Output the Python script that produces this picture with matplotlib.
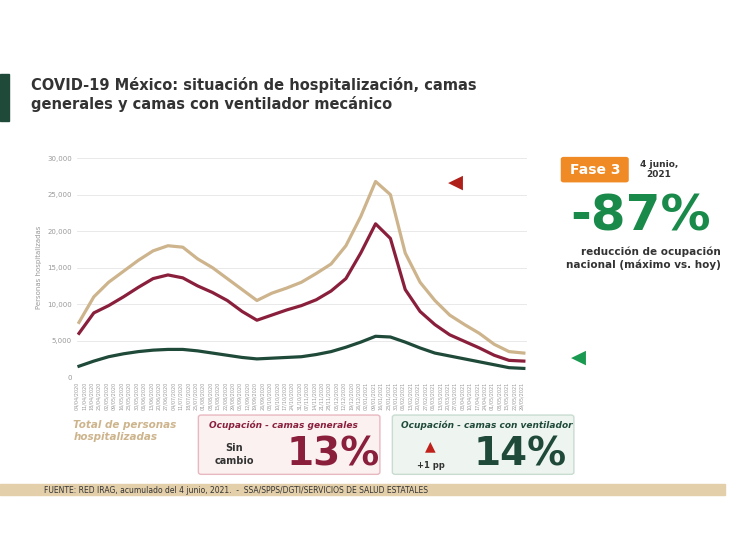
import matplotlib
matplotlib.use("Agg")
import matplotlib.pyplot as plt
import matplotlib.dates as mdates
from matplotlib.patches import FancyBboxPatch, Rectangle
import datetime as dt

dates = [dt.date(2020, 4, 6) + dt.timedelta(days=14 * i) for i in range(31)]
total_hosp = [7500, 11000, 13000, 14500, 16000, 17300, 18000, 17800, 16200, 15000, 13500, 12000, 10500,
              11500, 12200, 13000, 14200, 15500, 18000, 22000, 26800, 25000, 17000, 13000, 10500, 8500,
              7200, 6000, 4500, 3500, 3300]
camas_generales = [6000, 8800, 9800, 11000, 12300, 13500, 14000, 13600, 12500, 11600, 10500, 9000, 7800,
                   8500, 9200, 9800, 10600, 11800, 13500, 17000, 21000, 19000, 12000, 9000, 7200, 5800,
                   4900, 4000, 3000, 2300, 2200]
camas_ventilador = [1500, 2200, 2800, 3200, 3500, 3700, 3800, 3800, 3600, 3300, 3000, 2700, 2500,
                    2600, 2700, 2800, 3100, 3500, 4100, 4800, 5600, 5500, 4800, 4000, 3300, 2900,
                    2500, 2100, 1700, 1300, 1200]
yticks = [0, 5000, 10000, 15000, 20000, 25000, 30000]

fig = plt.figure(figsize=(7.32, 5.49), dpi=100)
fig.patch.set_facecolor("white")

ax = fig.add_axes([0.105, 0.313, 0.615, 0.399])
ax.plot(dates, total_hosp, color="#cdb48c", lw=2.3)
ax.plot(dates, camas_generales, color="#8a1f3c", lw=2.3)
ax.plot(dates, camas_ventilador, color="#1f4a3a", lw=2.3)
ax.set_ylim(0, 30000)
ax.set_xlim(dates[0] - dt.timedelta(days=2), dates[-1] + dt.timedelta(days=3))
ax.set_yticks(yticks)
ax.set_yticklabels([f"{v:,}" for v in yticks], fontsize=5, color="#999999")
ax.yaxis.grid(True, color="#e5e5e5", lw=0.6)
ax.set_axisbelow(True)
ax.xaxis.set_major_locator(mdates.DayLocator(interval=7))
ax.xaxis.set_major_formatter(mdates.DateFormatter("%d/%m/%Y"))
plt.setp(ax.get_xticklabels(), rotation=90, fontsize=3.5, color="#999999")
ax.tick_params(length=0)
for s in ax.spines.values():
    s.set_visible(False)
ax.set_ylabel("Personas hospitalizadas", fontsize=5, color="#999999")

# Title
fig.add_artist(Rectangle((0, 0.78), 0.012, 0.085, color="#1f4a3a", transform=fig.transFigure))
fig.text(0.042, 0.845, "COVID-19 México: situación de hospitalización, camas", fontsize=10.5,
         fontweight="bold", color="#333333", va="center")
fig.text(0.042, 0.81, "generales y camas con ventilador mecánico", fontsize=10.5,
         fontweight="bold", color="#333333", va="center")

# Markers
fig.text(0.622, 0.668, "◀", color="#b0201a", fontsize=14, ha="center", va="center")
fig.text(0.79, 0.35, "◀", color="#1a9a50", fontsize=14, ha="center", va="center")

# Right panel
fig.add_artist(FancyBboxPatch((0.77, 0.672), 0.085, 0.038, boxstyle="round,pad=0.003",
                              color="#f08a24", transform=fig.transFigure))
fig.text(0.8125, 0.691, "Fase 3", color="white", fontsize=10, fontweight="bold", ha="center", va="center")
fig.text(0.9, 0.691, "4 junio,\n2021", color="#333333", fontsize=6.5, fontweight="bold",
         ha="center", va="center", linespacing=1.1)
fig.text(0.875, 0.605, "-87%", color="#1a8a4a", fontsize=36, fontweight="bold", ha="center", va="center")
fig.text(0.985, 0.53, "reducción de ocupación\nnacional (máximo vs. hoy)", color="#333333", fontsize=7.5,
         fontweight="bold", ha="right", va="center", linespacing=1.3)

# Bottom boxes
fig.text(0.1, 0.215, "Total de personas\nhospitalizadas", color="#cdb48c", fontsize=7.5,
         fontweight="bold", style="italic", va="center", linespacing=1.2)
fig.add_artist(FancyBboxPatch((0.275, 0.14), 0.24, 0.1, boxstyle="round,pad=0.004",
                              fc="#fbf1f1", ec="#e8b8c0", lw=1, transform=fig.transFigure))
fig.text(0.285, 0.225, "Ocupación - camas generales", color="#8a1f3c", fontsize=6.5,
         fontweight="bold", style="italic", va="center")
fig.text(0.32, 0.172, "Sin\ncambio", color="#333333", fontsize=7, fontweight="bold",
         ha="center", va="center", linespacing=1.3)
fig.text(0.455, 0.172, "13%", color="#8a1f3c", fontsize=28, fontweight="bold", ha="center", va="center")
fig.add_artist(FancyBboxPatch((0.54, 0.14), 0.24, 0.1, boxstyle="round,pad=0.004",
                              fc="#eef4f0", ec="#c8dcd0", lw=1, transform=fig.transFigure))
fig.text(0.548, 0.225, "Ocupación - camas con ventilador", color="#1f4a3a", fontsize=6.5,
         fontweight="bold", style="italic", va="center")
fig.text(0.588, 0.187, "▲", color="#c0201a", fontsize=10, ha="center", va="center")
fig.text(0.588, 0.152, "+1 pp", color="#333333", fontsize=6, fontweight="bold", ha="center", va="center")
fig.text(0.71, 0.172, "14%", color="#1f4a3a", fontsize=28, fontweight="bold", ha="center", va="center")

# Footer band
fig.add_artist(Rectangle((0.0, 0.098), 0.99, 0.02, color="#e3cfa9", transform=fig.transFigure))
fig.text(0.06, 0.107, "FUENTE: RED IRAG, acumulado del 4 junio, 2021.  -  SSA/SPPS/DGTI/SERVICIOS DE SALUD ESTATALES",
         fontsize=5.5, color="#333333", va="center")

fig.savefig("out.png", dpi=100)
